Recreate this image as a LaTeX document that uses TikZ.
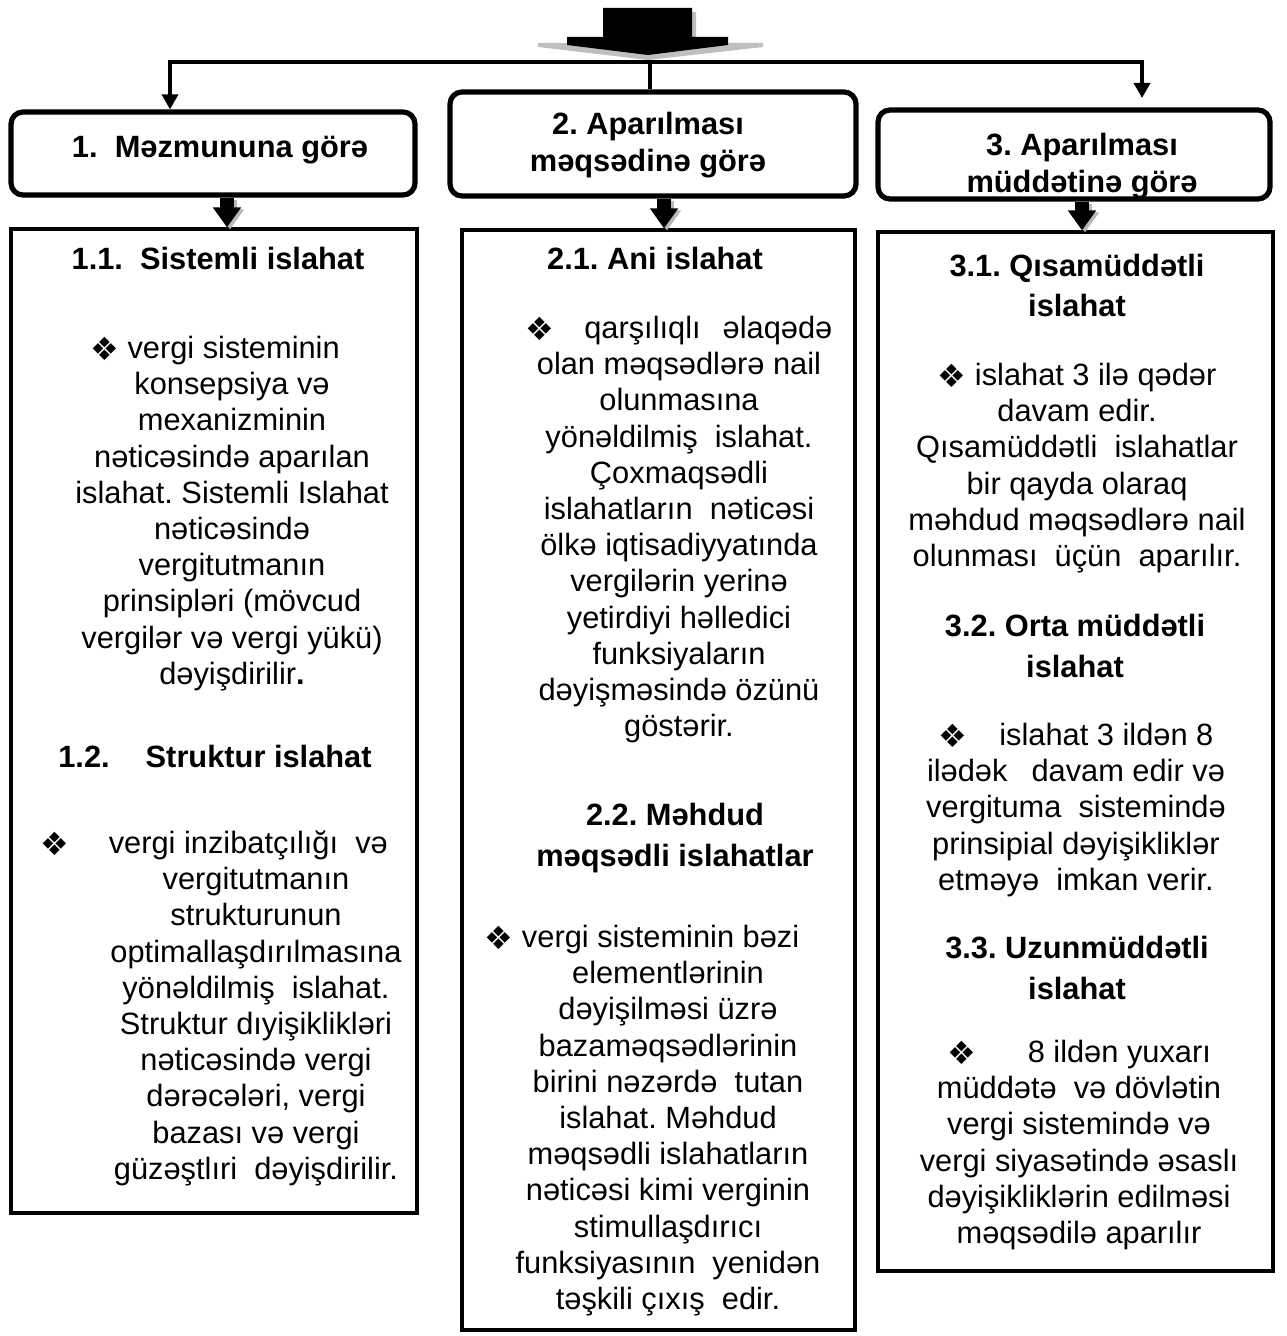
\documentclass[tikz,border=0pt]{standalone}
\usepackage{fontspec}
\setmainfont{Liberation Sans}
\newfontfamily\dejavu{DejaVu Sans}
\usetikzlibrary{arrows.meta}
\newcommand\bul{\smash{\raisebox{-0.8pt}{\dejavu\fontsize{16}{16}\selectfont ❖}}}
\newcommand\tp{\rule{0pt}{12pt}}
\frenchspacing
\begin{document}
\begin{tikzpicture}[x=0.5pt,y=-0.5pt,
  txtbody/.style={anchor=north, inner sep=0pt, align=center, font=\frenchspacing\fontsize{15.4}{18.1}\selectfont},
  ttl/.style={anchor=north, inner sep=0pt, align=center, font=\frenchspacing\bfseries\fontsize{15.4}{20.3}\selectfont},
  hdr/.style={anchor=north, inner sep=0pt, align=center, font=\frenchspacing\bfseries\fontsize{15.4}{18.7}\selectfont},
  hbox/.style={draw, line width=2.6pt, rounded corners=6pt, inner sep=0pt},
  cbox/.style={draw, line width=1.6pt, inner sep=0pt},
  conn/.style={line width=1.8pt},
  blk/.style={line width=7pt, -{Triangle[length=10pt,width=13.5pt]}},
  blkshadow/.style={blk, draw=black!28, transform canvas={shift={(1.5pt,-1pt)}}},
]
\useasboundingbox (0,0) rectangle (1286,1336);
\fill[white] (0,0) rectangle (1286,1336);

% big top arrow
\fill[black!25] (606,12) -- (696,12) -- (696,43) -- (763,43) -- (763,47) -- (648,60) -- (538,47) -- (538,43) -- (606,43) -- cycle;
\fill[black] (603,8) -- (692,8) -- (692,37) -- (728,37) -- (728,45) -- (648,55) -- (567,45) -- (567,37) -- (603,37) -- cycle;

% header texts
\node[hdr] (ht1) at (220,133) {\tp 1.\ \ Məzmununa görə};
\node[hdr] (ht2) at (648,110) {\tp 2. Aparılması\\məqsədinə görə};
\node[hdr] (ht3) at (1082,131) {\tp 3. Aparılması\\müddətinə görə};

% header boxes
\node[hbox, minimum width=202pt, minimum height=41.5pt] (h1) at (213,153.5) {};
\node[hbox, minimum width=203pt, minimum height=52pt] (h2) at (653,144) {};
\node[hbox, minimum width=196pt, minimum height=44.5pt] (h3) at (1074,154.5) {};

% content boxes
\node[cbox, minimum width=203pt, minimum height=492pt] (c1) at (214,721) {};
\node[cbox, minimum width=196.5pt, minimum height=550pt] (c2) at (658.5,780) {};
\node[cbox, minimum width=197.5pt, minimum height=519.5pt] (c3) at (1075.5,751.5) {};

% connectors from top
\coordinate (jl) at (170,62);
\coordinate (jr) at (1142,62);
\coordinate (jc) at (650,62);
\coordinate (e3) at (1142,98);
\draw[conn, {Triangle[length=7.5pt,width=8pt]}-{Triangle[length=7.5pt,width=8pt]}] (e3) -- (jr) -- (jl) -- (jl |- h1.north);
\draw[conn] (jc) -- (jc |- h2.north);

% block arrows header -> content
\draw[blkshadow] (227,0 |- h1.south) -- (227,0 |- c1.north);
\draw[blk] (227,0 |- h1.south) -- (227,0 |- c1.north);
\draw[blkshadow] (664,0 |- h2.south) -- (664,0 |- c2.north);
\draw[blk] (664,0 |- h2.south) -- (664,0 |- c2.north);
\draw[blkshadow] (1082,0 |- h3.south) -- (1082,0 |- c3.north);
\draw[blk] (1082,0 |- h3.south) -- (1082,0 |- c3.north);

% column 1
\node[ttl] (t11) at (218,245) {\tp 1.1.\ \ Sistemli islahat};
\node[txtbody] (p11) at (232,334) {\tp\bul{} vergi sisteminin\hspace*{17pt}\\
konsepsiya və\\
mexanizminin\\
nəticəsində aparılan\\
islahat. Sistemli Islahat\\
nəticəsində\\
vergitutmanın\\
prinsipləri (mövcud\\
vergilər və vergi yükü)\\
dəyişdirilir\textbf{.}};
\node[ttl] (t12) at (215,743) {\tp 1.2.\hspace{18pt}Struktur islahat};
\node[txtbody] (p12) at (256,829) {\tp\bul\hspace{20pt}vergi inzibatçılığı\ \ və\hspace*{42pt}\\
vergitutmanın\\
strukturunun\\
optimallaşdırılmasına\\
yönəldilmiş\ \ islahat.\\
Struktur dıyişiklikləri\\
nəticəsində vergi\\
dərəcələri, vergi\\
bazası və vergi\\
güzəştlıri\ \ dəyişdirilir.};

% column 2
\node[ttl] (t21) at (655,245) {\tp 2.1. Ani islahat};
\node[txtbody] (p21) at (679,314) {\tp\bul\hspace{15pt}qarşılıqlı\hspace{11pt}əlaqədə\\
olan məqsədlərə nail\\
olunmasına\\
yönəldilmiş\ \ islahat.\\
Çoxmaqsədli\\
islahatların\ \ nəticəsi\\
ölkə iqtisadiyyatında\\
vergilərin yerinə\\
yetirdiyi həlledici\\
funksiyaların\\
dəyişməsində özünü\\
göstərir.};
\node[ttl] (t22) at (675,801) {\tp 2.2. Məhdud\\məqsədli islahatlar};
\node[txtbody] (p22) at (668,923) {\tp\bul{} vergi sisteminin bəzi\hspace*{26pt}\\
elementlərinin\\
dəyişilməsi üzrə\\
bazaməqsədlərinin\\
birini nəzərdə\ \ tutan\\
islahat. Məhdud\\
məqsədli islahatların\\
nəticəsi kimi verginin\\
stimullaşdırıcı\\
funksiyasının\ \ yenidən\\
təşkili çıxış\ \ edir.};

% column 3
\node[ttl] (t31) at (1077,252) {\tp 3.1. Qısamüddətli\\islahat};
\node[txtbody] (p31) at (1077,361) {\tp\bul{} islahat 3 ilə qədər\\
davam edir.\\
Qısamüddətli\ \ islahatlar\\
bir qayda olaraq\\
məhdud məqsədlərə nail\\
olunması\ \ üçün\ \ aparılır.};
\node[ttl] (t32) at (1075,612) {\tp 3.2. Orta müddətli\\islahat};
\node[txtbody] (p32) at (1076,721) {\tp\bul\hspace{16pt}islahat 3 ildən 8\\
ilədək\hspace{12pt}davam edir və\\
vergituma\ \ sistemində\\
prinsipial dəyişikliklər\\
etməyə\ \ imkan verir.};
\node[ttl] (t33) at (1077,934) {\tp 3.3. Uzunmüddətli\\islahat};
\node[txtbody] (p33) at (1079,1038) {\tp\bul\hspace{26pt}8 ildən yuxarı\\
müddətə\ \ və dövlətin\\
vergi sistemində və\\
vergi siyasətində əsaslı\\
dəyişikliklərin edilməsi\\
məqsədilə aparılır};
\end{tikzpicture}
\end{document}
